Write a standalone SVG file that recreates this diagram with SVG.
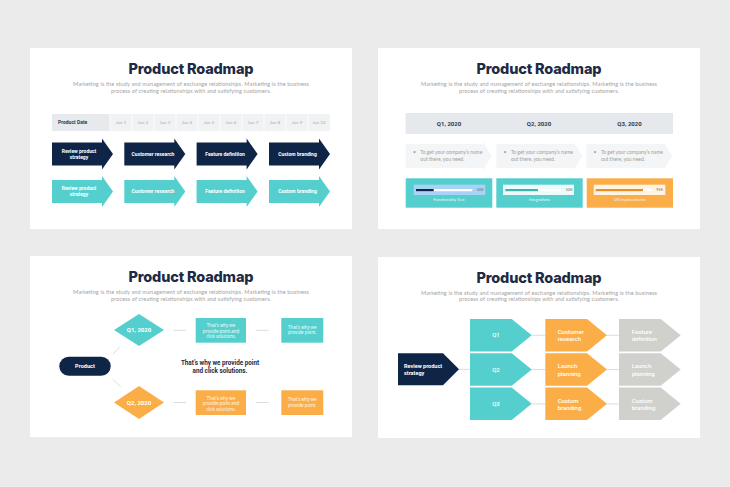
<svg xmlns="http://www.w3.org/2000/svg" width="730" height="487" viewBox="0 0 730 487">
<style>
.bg{fill:#ebebeb}
.slide{fill:#ffffff}
.title{font-family:Inter,"Open Sans",sans-serif;font-weight:800;font-size:14.5px;fill:#1e2b44;text-anchor:middle}
.sub{font-family:Lato,"Open Sans",sans-serif;font-size:5.6px;fill:#a3a3a3;text-anchor:middle}
.navy{fill:#0f2548}
.teal{fill:#55cfcd}
.orange{fill:#fbad47}
.grey{fill:#d0d0cc}
.light{fill:#f3f5f7}
.wt{font-family:Roboto,"Liberation Sans",sans-serif;font-weight:700;font-size:5px;fill:#ffffff;text-anchor:middle}
.wtl{font-family:Roboto,"Liberation Sans",sans-serif;font-weight:500;font-size:6px;fill:#ffffff}
.wtc{font-family:Roboto,"Liberation Sans",sans-serif;font-weight:500;font-size:6px;fill:#ffffff;text-anchor:middle}
.small{font-family:"Open Sans",Lato,sans-serif;font-size:4.4px;fill:#ffffff;text-anchor:middle}
.hdr{font-family:Roboto,"Liberation Sans",sans-serif;font-weight:700;font-size:5px;fill:#333a45}
.jun{font-family:Lato,"Liberation Sans",sans-serif;font-size:4.4px;fill:#a8a8a8;text-anchor:middle}
.q{font-family:Roboto,"Liberation Sans",sans-serif;font-weight:700;font-size:6px;fill:#333a45;text-anchor:middle}
.bul{font-family:Lato,"Liberation Sans",sans-serif;font-size:5px;fill:#a0a0a0}
.pct{font-family:Lato,"Liberation Sans",sans-serif;font-size:3.4px;fill:#666666;text-anchor:end}
.cap{font-family:Lato,"Liberation Sans",sans-serif;font-size:4px;fill:#e8fbfb;text-anchor:middle}
.ctr{font-family:Roboto,"Liberation Sans",sans-serif;font-weight:700;font-size:6.3px;fill:#1e2b44;text-anchor:middle}
.conn{stroke:#cfd3d6;stroke-width:0.8;fill:none}
</style>
<defs>
<path id="arr1" d="M0,-11.5 H50 V-15.5 L61,0 L50,15.5 V11.5 H0 Z"/>
<path id="chev2" d="M0,-12 H77 V-14.5 L86,0 L77,14.5 V12 H0 Z"/>
<path id="pent" d="M0,0 H41.7 L61.7,16.25 L41.7,32.5 H0 Z"/>
</defs>
<rect class="bg" x="0" y="0" width="730" height="487"/>
<rect class="slide" x="30" y="48" width="322" height="181"/>
<rect class="slide" x="378" y="48" width="322" height="181"/>
<rect class="slide" x="30" y="256" width="322" height="181"/>
<rect class="slide" x="378" y="257" width="322" height="181"/>

<!-- Slide 1 -->
<g id="s1-title">
<text class="title" x="191" y="74" textLength="125">Product Roadmap</text>
<text class="sub" x="191" y="86" textLength="236">Marketing is the study and management of exchange relationships. Marketing is the business</text>
<text class="sub" x="191" y="92.5" textLength="160">process of creating relationships with and satisfying customers.</text>
</g>
<g id="s1-header">
<rect x="52" y="114" width="278" height="17" fill="#f0f2f4"/>
<rect x="52" y="114" width="58" height="17" fill="#e7eaed"/>
<g stroke="#ffffff" stroke-width="0.8">
<line x1="110" y1="114" x2="110" y2="131"/><line x1="132" y1="114" x2="132" y2="131"/><line x1="154" y1="114" x2="154" y2="131"/><line x1="176" y1="114" x2="176" y2="131"/><line x1="198" y1="114" x2="198" y2="131"/><line x1="220" y1="114" x2="220" y2="131"/><line x1="242" y1="114" x2="242" y2="131"/><line x1="264" y1="114" x2="264" y2="131"/><line x1="286" y1="114" x2="286" y2="131"/><line x1="308" y1="114" x2="308" y2="131"/>
</g>
<text class="hdr" x="58" y="124.3">Product Date</text>
<text class="jun" x="121" y="124">Jun 1</text><text class="jun" x="143" y="124">Jun 2</text><text class="jun" x="165" y="124">Jun 3</text><text class="jun" x="187" y="124">Jun 4</text><text class="jun" x="209" y="124">Jun 5</text><text class="jun" x="231" y="124">Jun 6</text><text class="jun" x="253" y="124">Jun 7</text><text class="jun" x="275" y="124">Jun 8</text><text class="jun" x="297" y="124">Jun 9</text><text class="jun" x="319" y="124">Jun 10</text>
</g>
<g id="s1-a1"><use href="#arr1" class="navy" x="52" y="154"/><text class="wt" x="79" y="152.5">Review product</text><text class="wt" x="79" y="158.5">strategy</text></g>
<g id="s1-a2"><use href="#arr1" class="navy" x="124.3" y="154"/><text class="wt" x="153" y="155.8">Customer research</text></g>
<g id="s1-a3"><use href="#arr1" class="navy" x="196.6" y="154"/><text class="wt" x="225" y="155.8">Feature definition</text></g>
<g id="s1-a4"><use href="#arr1" class="navy" x="269" y="154"/><text class="wt" x="297.5" y="155.8">Custom branding</text></g>
<g id="s1-b1"><use href="#arr1" class="teal" x="52" y="191.5"/><text class="wt" x="79" y="190">Review product</text><text class="wt" x="79" y="196">strategy</text></g>
<g id="s1-b2"><use href="#arr1" class="teal" x="124.3" y="191.5"/><text class="wt" x="153" y="193.3">Customer research</text></g>
<g id="s1-b3"><use href="#arr1" class="teal" x="196.6" y="191.5"/><text class="wt" x="225" y="193.3">Feature definition</text></g>
<g id="s1-b4"><use href="#arr1" class="teal" x="269" y="191.5"/><text class="wt" x="297.5" y="193.3">Custom branding</text></g>

<!-- Slide 2 -->
<g id="s2-title">
<text class="title" x="539" y="74" textLength="125">Product Roadmap</text>
<text class="sub" x="539" y="86" textLength="236">Marketing is the study and management of exchange relationships. Marketing is the business</text>
<text class="sub" x="539" y="92.5" textLength="160">process of creating relationships with and satisfying customers.</text>
</g>
<g id="s2-header">
<rect x="405.5" y="113" width="267.5" height="21" fill="#e5e9ed"/>
<text class="q" x="449" y="125.5">Q1, 2020</text>
<text class="q" x="539" y="125.5">Q2, 2020</text>
<text class="q" x="629.5" y="125.5">Q3, 2020</text>
</g>
<g id="s2-c1"><use href="#chev2" class="light" x="405.7" y="156"/><text class="bul" x="413" y="154.3">•</text><text class="bul" x="420.3" y="154.3">To get your company’s name</text><text class="bul" x="420.3" y="161">out there, you need.</text></g>
<g id="s2-c2"><use href="#chev2" class="light" x="496.3" y="156"/><text class="bul" x="503.6" y="154.3">•</text><text class="bul" x="510.9" y="154.3">To get your company’s name</text><text class="bul" x="510.9" y="161">out there, you need.</text></g>
<g id="s2-c3"><use href="#chev2" class="light" x="586.3" y="156"/><text class="bul" x="593.6" y="154.3">•</text><text class="bul" x="600.9" y="154.3">To get your company’s name</text><text class="bul" x="600.9" y="161">out there, you need.</text></g>
<g id="s2-p1">
<rect class="teal" x="405.7" y="178.3" width="86.6" height="29.4"/>
<rect x="413.7" y="184.7" width="71.6" height="10.3" fill="#a8d2f6"/>
<rect x="416" y="189" width="56.3" height="2.2" fill="#ffffff"/>
<rect x="416" y="189" width="17.7" height="2.2" fill="#0f2548"/>
<text class="pct" x="483.5" y="191.3">50%</text>
<text class="cap" x="449" y="201">Functionality Test</text>
</g>
<g id="s2-p2">
<rect class="teal" x="496.3" y="178.3" width="86.4" height="29.4"/>
<rect x="503" y="184.7" width="71" height="10.3" fill="#eefafa"/>
<rect x="505.3" y="189" width="55.7" height="2.2" fill="#ffffff"/>
<rect x="505.3" y="189" width="32.7" height="2.2" fill="#3cb3ae"/>
<text class="pct" x="572.5" y="191.3">50%</text>
<text class="cap" x="539.5" y="201">Integrations</text>
</g>
<g id="s2-p3">
<rect class="orange" x="586.7" y="178.3" width="86.3" height="29.4"/>
<rect x="593.7" y="184.7" width="71.6" height="10.3" fill="#fff4e3"/>
<rect x="595.7" y="189" width="55.6" height="2.2" fill="#ffffff"/>
<rect x="595.7" y="189" width="47.3" height="2.2" fill="#ea8e22"/>
<text class="pct" x="663" y="191.3">95%</text>
<text class="cap" x="629.8" y="201" fill="#fff2dd">UX Improvements</text>
</g>

<!-- Slide 3 -->
<g id="s3-title">
<text class="title" x="191" y="282" textLength="125">Product Roadmap</text>
<text class="sub" x="191" y="294" textLength="236">Marketing is the study and management of exchange relationships. Marketing is the business</text>
<text class="sub" x="191" y="300.5" textLength="160">process of creating relationships with and satisfying customers.</text>
</g>
<g id="s3-connectors">
<line class="conn" x1="112.7" y1="354.3" x2="120" y2="346.7"/>
<line class="conn" x1="112.7" y1="379.3" x2="120.7" y2="386.7"/>
<line class="conn" x1="173.3" y1="330.3" x2="186" y2="330.3"/>
<line class="conn" x1="256" y1="330.3" x2="268.7" y2="330.3"/>
<line class="conn" x1="173.3" y1="402.5" x2="186" y2="402.5"/>
<line class="conn" x1="256" y1="402.5" x2="268.7" y2="402.5"/>
</g>
<g id="s3-product"><rect class="navy" x="59.3" y="356.7" width="51.4" height="19" rx="9.5"/><text class="wt" x="85" y="368" style="font-size:5.6px">Product</text></g>
<g id="s3-q1"><polygon class="teal" points="114,330 139,314 164,330 139,346"/><text class="wt" x="139" y="332.2" style="font-size:6px">Q1, 2020</text></g>
<g id="s3-q2"><polygon class="orange" points="114,402.5 139,386 164,402.5 139,419"/><text class="wt" x="139" y="404.7" style="font-size:6px">Q2, 2020</text></g>
<g id="s3-b1"><rect class="teal" x="195.7" y="318" width="50.3" height="24.7"/><text class="small" x="221" y="327.3">That’s why we</text><text class="small" x="221" y="332.8">provide point and</text><text class="small" x="221" y="338.3">click solutions.</text></g>
<g id="s3-b2"><rect class="teal" x="281.3" y="318" width="42" height="24.7"/><text class="small" x="302.3" y="328.8">That’s why we</text><text class="small" x="302.3" y="334.3">provide point.</text></g>
<g id="s3-b3"><rect class="orange" x="195.7" y="390.3" width="50.3" height="24.7"/><text class="small" x="221" y="399.5">That’s why we</text><text class="small" x="221" y="405">provide point and</text><text class="small" x="221" y="410.5">click solutions.</text></g>
<g id="s3-b4"><rect class="orange" x="281.3" y="390.3" width="42" height="24.7"/><text class="small" x="302.3" y="401">That’s why we</text><text class="small" x="302.3" y="406.5">provide point.</text></g>
<g id="s3-center"><text class="ctr" x="220" y="365">That’s why we provide point</text><text class="ctr" x="220" y="373.3">and click solutions.</text></g>

<!-- Slide 4 -->
<g id="s4-title">
<text class="title" x="539" y="282.5" textLength="125">Product Roadmap</text>
<text class="sub" x="539" y="294.5" textLength="236">Marketing is the study and management of exchange relationships. Marketing is the business</text>
<text class="sub" x="539" y="301" textLength="160">process of creating relationships with and satisfying customers.</text>
</g>
<g id="s4-connectors">
<line class="conn" x1="459" y1="369.4" x2="470" y2="369.4" stroke="#e6e8ea"/>
<line class="conn" x1="531.7" y1="335.3" x2="545.3" y2="335.3" stroke="#e6e8ea"/>
<line class="conn" x1="531.7" y1="369.6" x2="545.3" y2="369.6" stroke="#e6e8ea"/>
<line class="conn" x1="531.7" y1="403.9" x2="545.3" y2="403.9" stroke="#e6e8ea"/>
<line class="conn" x1="606.7" y1="335.3" x2="619" y2="335.3" stroke="#e6e8ea"/>
<line class="conn" x1="606.7" y1="369.6" x2="619" y2="369.6" stroke="#e6e8ea"/>
<line class="conn" x1="606.7" y1="403.9" x2="619" y2="403.9" stroke="#e6e8ea"/>
</g>
<g id="s4-review"><path class="navy" d="M398,353.3 H443 L459,369.3 L443,385.3 H398 Z"/><text class="wtl" x="404" y="368" style="font-weight:700;font-size:5.5px">Review product</text><text class="wtl" x="404" y="375.3" style="font-weight:700;font-size:5.5px">strategy</text></g>
<g id="s4-q1"><use href="#pent" class="teal" x="470" y="319"/><text class="wtc" x="496" y="337.3">Q1</text></g>
<g id="s4-q2"><use href="#pent" class="teal" x="470" y="353.3"/><text class="wtc" x="496" y="371.6">Q2</text></g>
<g id="s4-q3"><use href="#pent" class="teal" x="470" y="387.6"/><text class="wtc" x="496" y="405.9">Q3</text></g>
<g id="s4-o1"><use href="#pent" class="orange" x="545.3" y="319"/><text class="wtl" x="557.7" y="334">Customer</text><text class="wtl" x="557.7" y="341.3">research</text></g>
<g id="s4-o2"><use href="#pent" class="orange" x="545.3" y="353.3"/><text class="wtl" x="557.7" y="368.3">Launch</text><text class="wtl" x="557.7" y="375.6">planning</text></g>
<g id="s4-o3"><use href="#pent" class="orange" x="545.3" y="387.6"/><text class="wtl" x="557.7" y="402.6">Custom</text><text class="wtl" x="557.7" y="409.9">branding</text></g>
<g id="s4-g1"><use href="#pent" class="grey" x="619" y="319"/><text class="wtl" x="631.7" y="334" fill="#f2f2ef">Feature</text><text class="wtl" x="631.7" y="341.3" fill="#f2f2ef">definition</text></g>
<g id="s4-g2"><use href="#pent" class="grey" x="619" y="353.3"/><text class="wtl" x="631.7" y="368.3" fill="#f2f2ef">Launch</text><text class="wtl" x="631.7" y="375.6" fill="#f2f2ef">planning</text></g>
<g id="s4-g3"><use href="#pent" class="grey" x="619" y="387.6"/><text class="wtl" x="631.7" y="402.6" fill="#f2f2ef">Custom</text><text class="wtl" x="631.7" y="409.9" fill="#f2f2ef">branding</text></g>
</svg>
